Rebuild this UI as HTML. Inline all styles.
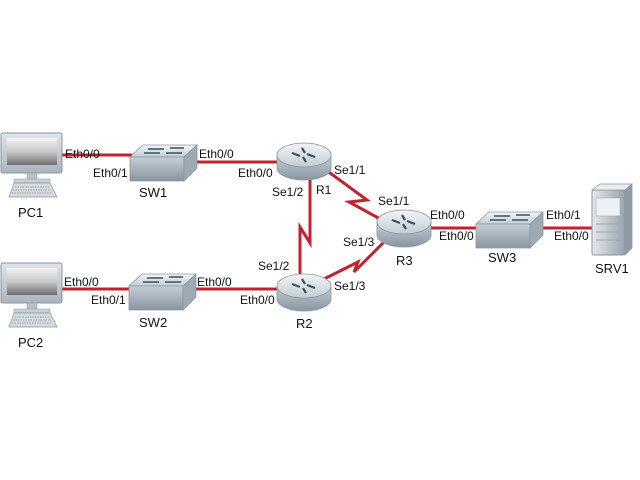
<!DOCTYPE html>
<html><head><meta charset="utf-8"><style>
html,body{margin:0;padding:0;background:#fff;width:640px;height:480px;overflow:hidden}
svg text{font-family:"Liberation Sans",Arial,sans-serif;font-size:12px;fill:#111}
</style></head><body>
<svg width="640" height="480" viewBox="0 0 640 480" xmlns="http://www.w3.org/2000/svg">
<defs>
<linearGradient id="scr" x1="0" y1="0" x2="0" y2="1"><stop offset="0" stop-color="#f4f4f4"/><stop offset="0.5" stop-color="#c8c8c8"/><stop offset="1" stop-color="#6e6e6e"/></linearGradient>
<linearGradient id="mon" x1="0" y1="0" x2="0" y2="1"><stop offset="0" stop-color="#dfe5ea"/><stop offset="1" stop-color="#aab4bd"/></linearGradient>
<linearGradient id="side" x1="0" y1="0" x2="0" y2="1"><stop offset="0" stop-color="#c5ced6"/><stop offset="1" stop-color="#8995a0"/></linearGradient>
<linearGradient id="top" x1="0" y1="0" x2="0" y2="1"><stop offset="0" stop-color="#f2f5f7"/><stop offset="1" stop-color="#c3ccd3"/></linearGradient>
<linearGradient id="srv" x1="0" y1="0" x2="1" y2="0"><stop offset="0" stop-color="#e4e8ec"/><stop offset="1" stop-color="#98a3ad"/></linearGradient>
<g id="pc">
<rect x="1" y="0" width="61" height="40" rx="2" fill="url(#mon)" stroke="#8c96a0"/>
<rect x="7" y="5" width="50" height="27" fill="url(#scr)"/>
<rect x="27" y="40" width="10" height="7" fill="#b9c2ca" stroke="#8c96a0" stroke-width="0.5"/>
<rect x="14" y="46" width="36" height="4" fill="#c9d0d6" stroke="#8c96a0" stroke-width="0.5"/>
<polygon points="14,50 50,50 57,64 9,64" fill="#d5dbe0" stroke="#8c96a0" stroke-width="0.7"/>
<path d="M15,54h34M13,57h38M12,60h40" stroke="#9aa3ab" stroke-width="1" stroke-dasharray="1.5,1"/>
</g>
<g id="sw">
<polygon points="0,12 13,0 67,0 54,12" fill="url(#top)" stroke="#8c96a0" stroke-width="0.8"/>
<polygon points="0,12 54,12 54,36 0,36" fill="url(#side)" stroke="#8c96a0" stroke-width="0.8"/>
<polygon points="54,12 67,0 67,23 54,36" fill="#9ea9b3" stroke="#8c96a0" stroke-width="0.8"/>
<path d="M18,4h16M40,3h14M14,8h16M36,8h16" stroke="#36545e" stroke-width="1.6"/>
</g>
<g id="rt">
<path d="M0,12 v13 a27,12 0 0 0 54,0 v-13 z" fill="url(#side)" stroke="#8c96a0" stroke-width="0.8"/>
<ellipse cx="27" cy="12" rx="27" ry="12" fill="url(#top)" stroke="#8c96a0" stroke-width="0.8"/>
<path d="M15,10l8,3M38,14l-8,-3M25,5l3,5M29,19l-3,-5" stroke="#36545e" stroke-width="2.2"/>
</g>
</defs>
<g stroke="#c4202e" stroke-width="3" fill="none">
<line x1="62" y1="155" x2="132" y2="155"/>
<line x1="196" y1="162" x2="280" y2="162"/>
<line x1="62" y1="289" x2="132" y2="289"/>
<line x1="194" y1="289" x2="280" y2="289"/>
<line x1="430" y1="228" x2="478" y2="228"/>
<line x1="542" y1="228" x2="592" y2="228"/>
<polyline points="310,178 310,243 300,227 300,276"/>
<polyline points="326,170 367,200 349,202 382,220"/>
<polyline points="322,280 358,262 354,272 386,240"/>
</g>
<use href="#pc" x="0" y="133"/>
<use href="#pc" x="0" y="263"/>
<use href="#sw" x="130" y="145"/>
<use href="#sw" x="129" y="274"/>
<use href="#sw" x="476" y="212"/>
<use href="#rt" x="277" y="143"/>
<use href="#rt" x="277" y="274"/>
<use href="#rt" x="377" y="210"/>
<g>
<rect x="592" y="190" width="33" height="65" rx="2" fill="url(#srv)" stroke="#8c96a0"/>
<polygon points="592,190 600,184 632,184 625,190" fill="#e9edf0" stroke="#8c96a0" stroke-width="0.7"/>
<polygon points="625,190 632,184 632,248 625,255" fill="#8e99a3" stroke="#8c96a0" stroke-width="0.7"/>
<rect x="596" y="198" width="24" height="18" fill="#eef1f3" stroke="#a0a9b1" stroke-width="0.6"/>
<path d="M596,224h24M596,232h24M596,240h24" stroke="#a0a9b1"/>
</g>
<text x="65" y="158">Eth0/0</text>
<text x="93" y="177">Eth0/1</text>
<text x="199" y="158">Eth0/0</text>
<text x="238" y="177">Eth0/0</text>
<text x="334" y="174">Se1/1</text>
<text x="272" y="196">Se1/2</text>
<text x="316" y="194">R1</text>
<text x="378" y="205">Se1/1</text>
<text x="343" y="246">Se1/3</text>
<text x="258" y="270">Se1/2</text>
<text x="334" y="290">Se1/3</text>
<text x="64" y="286">Eth0/0</text>
<text x="91" y="304">Eth0/1</text>
<text x="197" y="286">Eth0/0</text>
<text x="240" y="304">Eth0/0</text>
<text x="430" y="219">Eth0/0</text>
<text x="439" y="240">Eth0/0</text>
<text x="546" y="219">Eth0/1</text>
<text x="554" y="240">Eth0/0</text>
<text x="18" y="217" style="font-size:13px">PC1</text>
<text x="18" y="347" style="font-size:13px">PC2</text>
<text x="139" y="197" style="font-size:13px">SW1</text>
<text x="139" y="327" style="font-size:13px">SW2</text>
<text x="296" y="328" style="font-size:13px">R2</text>
<text x="396" y="265" style="font-size:13px">R3</text>
<text x="488" y="262" style="font-size:13px">SW3</text>
<text x="595" y="273" style="font-size:13px">SRV1</text>
</svg>
</body></html>
